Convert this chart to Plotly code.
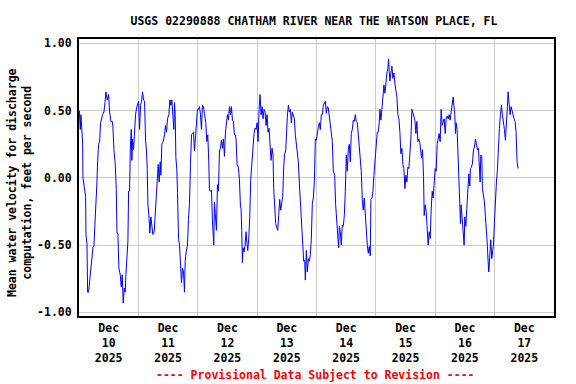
import pandas as pd
import plotly.graph_objects as go

# Hours since 2025-12-10 00:00 and mean water velocity (ft/s)
hours = [0.12, 0.52, 0.79, 1.06, 1.47, 1.60, 2.14, 2.68, 2.81, 3.22, 3.48, 3.89, 4.29, 4.70, 5.23, 5.64, 6.04, 6.45, 6.85, 7.25,
         7.52, 7.93, 8.33, 8.73, 9.54, 10.08, 10.48, 10.89, 11.42, 11.96, 12.37, 12.90, 13.44, 13.71, 14.12, 14.65, 15.06, 15.33, 15.73, 16.13,
         16.67, 17.08, 17.48, 17.88, 18.29, 18.69, 18.96, 19.36, 19.77, 20.04, 20.44, 20.71, 21.11, 21.38, 21.65, 22.06, 22.32, 22.86, 23.27, 23.67,
         24.07, 24.48, 24.88, 25.29, 25.69, 26.09, 26.50, 26.90, 27.30, 27.57, 27.84, 28.25, 28.65, 29.05, 29.46, 29.86, 30.40, 30.80, 31.21, 31.61,
         32.01, 32.42, 32.82, 33.09, 33.49, 34.03, 34.57, 34.97, 35.38, 35.78, 36.32, 36.72, 37.13, 37.53, 38.07, 38.34, 38.61, 38.88, 39.15, 39.55,
         39.82, 40.22, 40.63, 41.03, 41.43, 41.84, 42.24, 42.64, 42.91, 43.31, 43.85, 44.25, 44.66, 45.06, 45.47, 45.87, 46.27, 46.68, 47.08, 47.48,
         47.89, 48.29, 48.70, 49.10, 49.50, 49.91, 50.31, 50.71, 51.25, 51.66, 52.06, 52.46, 52.73, 53.14, 53.54, 53.94, 54.21, 54.48, 54.75, 55.15,
         55.56, 55.96, 56.37, 56.77, 57.17, 57.58, 57.98, 58.38, 58.79, 59.19, 59.60, 60.00, 60.40, 60.81, 61.21, 61.61, 62.02, 62.42, 62.82, 63.23,
         63.50, 63.90, 64.44, 64.84, 65.25, 65.52, 65.79, 66.05, 66.32, 66.73, 67.13, 67.53, 67.80, 68.21, 68.61, 69.02, 69.42, 69.82, 70.23, 70.50,
         70.76, 71.17, 71.57, 71.98, 72.38, 72.78, 73.19, 73.59, 73.99, 74.40, 74.80, 75.21, 75.61, 76.01, 76.42, 76.82, 77.22, 77.63, 78.03, 78.43,
         78.70, 79.11, 79.51, 79.92, 80.32, 80.72, 81.13, 81.53, 81.93, 82.34, 82.74, 83.14, 83.55, 83.82, 84.22, 84.63, 85.03, 85.43, 85.84, 86.24,
         86.64, 87.05, 87.45, 87.86, 88.26, 88.66, 89.07, 89.34, 90.01, 90.42, 90.82, 91.22, 91.49, 91.90, 92.30, 92.70, 93.11, 93.51, 93.92, 94.32,
         94.72, 95.13, 95.53, 95.93, 96.34, 96.74, 97.15, 97.55, 97.95, 98.36, 98.76, 99.16, 99.57, 99.97, 100.37, 100.78, 101.18, 101.59, 101.99, 102.39,
         102.80, 103.34, 103.74, 104.14, 104.55, 104.95, 105.22, 105.62, 106.03, 106.43, 106.83, 107.24, 107.64, 108.05, 108.45, 108.85, 109.26, 109.66, 110.06, 110.47,
         110.87, 111.27, 111.68, 112.08, 112.49, 112.89, 113.29, 113.70, 114.10, 114.50, 114.91, 115.31, 115.72, 116.12, 116.52, 116.93, 117.33, 117.73, 118.00, 118.41,
         118.81, 119.21, 119.62, 119.89, 120.29, 120.56, 120.96, 121.37, 121.64, 122.04, 122.44, 122.85, 123.25, 123.66, 124.06, 124.46, 124.87, 125.14, 125.41, 125.67,
         126.08, 126.48, 126.88, 127.29, 127.69, 128.10, 128.50, 128.90, 129.31, 129.71, 130.11, 130.52, 130.92, 131.33, 131.73, 132.13, 132.54, 132.94, 133.34, 133.75,
         134.15, 134.56, 134.96, 135.36, 135.77, 136.17, 136.57, 136.98, 137.38, 137.79, 138.45, 138.86, 139.26, 139.53, 139.93, 140.34, 140.74, 141.14, 141.55, 141.95,
         142.36, 142.76, 143.16, 143.57, 143.97, 144.37, 144.78, 145.18, 145.59, 145.99, 146.39, 146.80, 147.20, 147.60, 148.01, 148.41, 148.81, 149.22, 149.62, 150.03,
         150.43, 150.83, 151.24, 151.51, 151.91, 152.18, 152.45, 152.85, 153.12, 153.52, 153.93, 154.20, 154.47, 154.87, 155.27, 155.68, 155.95, 156.35, 156.75, 157.16,
         157.56, 157.97, 158.23, 158.64, 159.04, 159.45, 159.85, 160.25, 160.66, 161.06, 161.46, 161.87, 162.14, 162.41, 162.81, 163.08, 163.48, 163.89, 164.29, 164.56,
         164.96, 165.37, 165.64, 165.91, 166.17, 166.44, 166.85, 167.25, 167.52, 167.92, 168.33, 168.73, 169.13, 169.54, 169.94, 170.35, 170.75, 171.15, 171.56, 171.96,
         172.36, 172.77, 173.17, 173.44, 173.85, 174.25, 174.65, 175.06, 175.46, 175.86, 176.27, 176.67, 177.07, 177.48]

velocity = [0.50, 0.36, 0.47, 0.34, 0.26, 0.00, -0.08, -0.14, -0.42, -0.49, -0.85, -0.85, -0.77, -0.68, -0.60, -0.52, -0.50, -0.37, -0.24, -0.03,
            0.12, 0.25, 0.27, 0.41, 0.47, 0.49, 0.56, 0.64, 0.58, 0.62, 0.49, 0.42, 0.42, 0.38, 0.21, 0.10, -0.08, -0.40, -0.42, -0.67,
            -0.72, -0.81, -0.72, -0.93, -0.82, -0.85, -0.72, -0.54, -0.47, -0.10, -0.10, 0.20, 0.36, 0.13, 0.29, 0.21, 0.33, 0.47, 0.52, 0.54,
            0.57, 0.36, 0.54, 0.57, 0.64, 0.58, 0.57, 0.28, 0.20, 0.07, -0.19, -0.28, -0.41, -0.29, -0.35, -0.42, -0.40, -0.28, -0.09, 0.00,
            0.10, -0.03, 0.12, 0.02, 0.25, 0.27, 0.32, 0.39, 0.34, 0.44, 0.47, 0.58, 0.54, 0.58, 0.47, 0.36, 0.56, 0.47, 0.15, 0.06,
            -0.11, -0.45, -0.50, -0.71, -0.78, -0.67, -0.70, -0.85, -0.62, -0.55, -0.50, -0.31, -0.19, 0.10, 0.32, 0.33, 0.34, 0.20, 0.29, 0.41,
            0.51, 0.51, 0.53, 0.47, 0.36, 0.54, 0.53, 0.48, 0.41, 0.27, 0.32, 0.12, -0.09, -0.10, -0.09, -0.32, -0.42, -0.50, -0.18, -0.30,
            -0.39, -0.05, -0.10, 0.20, 0.22, 0.28, 0.22, 0.29, 0.16, 0.34, 0.44, 0.47, 0.43, 0.53, 0.47, 0.53, 0.43, 0.42, 0.32, 0.32,
            0.28, 0.10, 0.08, -0.01, -0.21, -0.23, -0.39, -0.63, -0.52, -0.55, -0.50, -0.40, -0.47, -0.54, -0.45, -0.29, -0.01, 0.12, 0.18, 0.27,
            0.33, 0.37, 0.36, 0.41, 0.27, 0.51, 0.62, 0.47, 0.53, 0.44, 0.51, 0.49, 0.39, 0.47, 0.34, 0.37, 0.27, 0.13, 0.22, 0.17,
            -0.08, -0.29, -0.34, -0.37, -0.39, -0.28, -0.16, -0.24, -0.20, -0.14, 0.08, 0.18, 0.20, 0.34, 0.46, 0.54, 0.49, 0.51, 0.41, 0.49,
            0.47, 0.44, 0.32, 0.25, 0.17, 0.12, -0.04, -0.13, -0.28, -0.52, -0.62, -0.61, -0.76, -0.54, -0.70, -0.60, -0.62, -0.57, -0.45, -0.19,
            -0.15, -0.03, 0.29, 0.28, 0.36, 0.38, 0.41, 0.36, 0.47, 0.47, 0.54, 0.56, 0.57, 0.48, 0.53, 0.52, 0.46, 0.39, 0.34, 0.27,
            0.05, 0.02, -0.20, -0.29, -0.37, -0.52, -0.36, -0.40, -0.50, -0.35, -0.36, -0.28, -0.10, 0.17, 0.05, 0.21, 0.25, 0.12, 0.33, 0.36,
            0.43, 0.42, 0.47, 0.42, 0.41, 0.32, 0.21, 0.17, 0.05, -0.16, -0.24, -0.15, -0.29, -0.37, -0.50, -0.56, -0.51, -0.58, -0.16, -0.15,
            -0.10, 0.02, 0.11, 0.18, 0.29, 0.34, 0.34, 0.41, 0.51, 0.43, 0.51, 0.59, 0.69, 0.63, 0.74, 0.78, 0.815, 0.885, 0.79, 0.72,
            0.78, 0.83, 0.74, 0.78, 0.70, 0.64, 0.60, 0.47, 0.44, 0.34, 0.18, 0.22, 0.10, 0.07, -0.08, 0.02, -0.03, 0.08, 0.07, 0.18,
            0.29, 0.51, 0.48, 0.46, 0.43, 0.33, 0.42, 0.27, 0.29, 0.26, 0.15, 0.21, 0.01, -0.28, -0.20, -0.25, -0.40, -0.50, -0.40, -0.45,
            -0.23, -0.10, -0.15, -0.03, 0.07, 0.05, 0.25, 0.29, 0.33, 0.27, 0.51, 0.39, 0.43, 0.44, 0.33, 0.44, 0.46, 0.44, 0.47, 0.43,
            0.49, 0.56, 0.60, 0.54, 0.47, 0.33, 0.41, 0.36, 0.22, 0.06, -0.13, -0.34, -0.20, -0.29, -0.36, -0.50, -0.29, -0.36, -0.23, -0.13,
            0.03, -0.06, 0.07, 0.08, 0.11, 0.21, 0.23, 0.29, 0.26, 0.21, 0.22, 0.11, -0.03, 0.17, 0.16, -0.08, -0.13, -0.18, -0.29, -0.42,
            -0.47, -0.62, -0.70, -0.62, -0.52, -0.46, -0.60, -0.52, -0.50, -0.33, -0.10, -0.03, 0.06, 0.27, 0.37, 0.47, 0.54, 0.47, 0.42, 0.36,
            0.28, 0.48, 0.53, 0.64, 0.51, 0.47, 0.53, 0.49, 0.47, 0.44, 0.42, 0.34, 0.12, 0.07]

days = pd.date_range("2025-12-10", "2025-12-18", freq="D")
start = pd.Timestamp("2025-12-10")
times = start + pd.to_timedelta(hours, unit="h")

FONT = "DejaVu Sans Mono"
L, R, T, B = 79, 22, 39, 68
W, H = 576, 384
PW, PH = W - L - R, H - T - B

fig = go.Figure()
fig.add_trace(go.Scatter(x=times, y=velocity, mode="lines",
                         line=dict(color="#0000FF", width=1), showlegend=False))

fig.update_layout(
    width=W, height=H,
    margin=dict(l=L, r=R, t=T, b=B, autoexpand=False),
    paper_bgcolor="white", plot_bgcolor="white",
    font=dict(family=FONT, size=11.5, color="black"),
    title=dict(text="<b>USGS 02290888 CHATHAM RIVER NEAR THE WATSON PLACE, FL</b>",
               x=314 / W, xanchor="center", y=1 - 20.7 / H, yanchor="middle",
               font=dict(family=FONT, size=11.5, color="black")),
)

fig.update_xaxes(
    type="date", range=[days[0], days[-1]], automargin=False,
    tick0=days[0], dtick=86400000, ticklabelmode="period",
    tickformat="<b>%b</b><br><b>%d</b><br><b>%Y</b>",
    showgrid=True, gridcolor="#CCCCCC", gridwidth=1,
    showline=True, linecolor="black", linewidth=2, mirror=True,
    ticks="", zeroline=False, ticklabelstandoff=0,
    tickfont=dict(family=FONT, size=11.5, color="black"),
)

fig.update_yaxes(
    range=[-1.027, 1.033], automargin=False, tickvals=[-1.0, -0.5, 0.0, 0.5, 1.0],
    ticktext=["<b>-1.00</b>", "<b>-0.50</b>", "<b>0.00</b>", "<b>0.50</b>", "<b>1.00</b>"],
    showgrid=True, gridcolor="#CCCCCC", gridwidth=1,
    showline=True, linecolor="black", linewidth=2, mirror=True,
    ticks="", zeroline=False, ticklabelstandoff=3,
    tickfont=dict(family=FONT, size=11.5, color="black"),
)

fig.add_annotation(text="<b>Mean water velocity for discharge<br>computation, feet per second</b>",
                   xref="paper", yref="paper", x=(19 - L) / PW, y=(H - B - 183) / PH,
                   xanchor="center", yanchor="middle", textangle=-90, showarrow=False,
                   font=dict(family=FONT, size=11.5, color="black"))

fig.add_annotation(text="<b>---- Provisional Data Subject to Revision ----</b>",
                   xref="paper", yref="paper", x=(315 - L) / PW, y=-(375 - (H - B)) / PH,
                   xanchor="center", yanchor="middle", showarrow=False,
                   font=dict(family=FONT, size=11.5, color="#FF0000"))

fig.write_html("out.html", config={"displayModeBar": False},
               post_script="document.body.style.margin='0';")
